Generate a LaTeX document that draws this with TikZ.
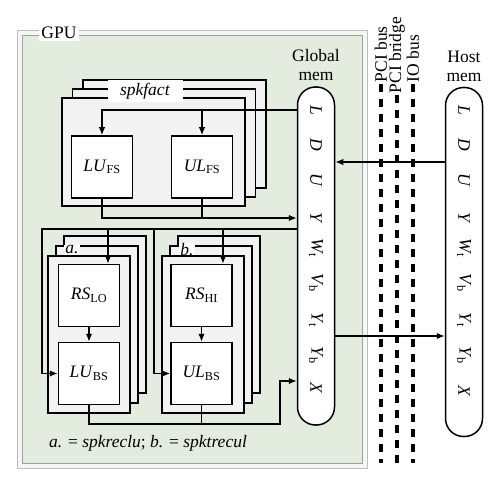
\documentclass[tikz,border=0pt]{standalone}
\usepackage{fontspec}
\setmainfont{Liberation Serif}
\usepackage{tikz}
\usetikzlibrary{positioning}
\usetikzlibrary{shapes,arrows.meta,positioning,fit}
\definecolor{gpugreen}{RGB}{227,236,223}
\definecolor{framegray}{RGB}{160,160,160}
\definecolor{stackgray}{RGB}{242,242,242}
\tikzstyle{block} = [rectangle, draw, fill=white, minimum width=61pt, minimum height=62pt, inner sep=0pt]
\tikzstyle{stack} = [rectangle, draw, fill=stackgray, inner sep=0pt]
\tikzstyle{mem} = [rectangle, draw, fill=white, rounded corners=18pt, minimum width=37pt]
\tikzstyle{var} = [rotate=-90, inner sep=0pt]
\tikzstyle{tag} = [fill=white, inner sep=1pt]
\tikzstyle{bus} = [draw, line width=3.2pt, dash pattern=on 8pt off 7pt]
\tikzstyle{line} = [draw, -{Latex[length=8pt,width=6.5pt]}]

\begin{document}
\begin{tikzpicture}[x=1pt, y=-1pt, line width=1.5pt, font=\fontsize{17.5}{19}\selectfont]
\useasboundingbox (0,0) rectangle (500,486);
    % nodes
\node (gpuout) [rectangle, draw=framegray!70, fill=gpugreen!40, line width=1pt, minimum width=350pt, minimum height=437pt] at (192,249.5) {};
\node (gpu) [rectangle, draw=framegray, fill=gpugreen, line width=1pt, minimum width=340pt, minimum height=427pt] at (192,249.5) {};
\node (gpulbl) [tag, inner sep=2pt] at (59,33) {GPU};

\node (gmem) [mem, minimum height=338pt] at (316,256) {};
\node (hmem) [mem, minimum height=349pt] at (464,262) {};
\node (glbl) [align=center, above=1pt of gmem] {Global\\mem};
\node (hlbl) [align=center, above=1pt of hmem] {Host\\mem};

\node (gl1) [var] at (316,110) {\textit{L}};
\node (gl2) [var] at (316,145) {\textit{D}};
\node (gl3) [var] at (316,180) {\textit{U}};
\node (gl4) [var] at (316,218) {\textit{Y}};
\node (gl5) [var] at (316,248) {\textit{W}\textsubscript{t}};
\node (gl6) [var] at (316,283) {\textit{V}\textsubscript{b}};
\node (gl7) [var] at (316,320) {\textit{Y}\textsubscript{t}};
\node (gl8) [var] at (316,355) {\textit{Y}\textsubscript{b}};
\node (gl9) [var] at (316,388) {\textit{X}};
\node (hl1) [var] at (464,110) {\textit{L}};
\node (hl2) [var] at (464,145) {\textit{D}};
\node (hl3) [var] at (464,180) {\textit{U}};
\node (hl4) [var] at (464,218) {\textit{Y}};
\node (hl5) [var] at (464,248) {\textit{W}\textsubscript{t}};
\node (hl6) [var] at (464,283) {\textit{V}\textsubscript{b}};
\node (hl7) [var] at (464,320) {\textit{Y}\textsubscript{t}};
\node (hl8) [var] at (464,355) {\textit{Y}\textsubscript{b}};
\node (hl9) [var] at (464,391) {\textit{X}};

\node (fact3) [stack, minimum width=183pt, minimum height=108pt] at (174.5,134) {};
\node (fact2) [stack, minimum width=183pt, minimum height=108pt] at (164,143) {};
\node (fact1) [stack, minimum width=183pt, minimum height=108pt] at (153.5,152) {};
\node (factlbl) [tag, minimum width=75pt, minimum height=22pt] at (145,91) {\textit{spkfact}};
\node (lufs) [block] at (102,167) {\textit{LU}\textsubscript{FS}};
\node (ulfs) [block] at (202,167) {\textit{UL}\textsubscript{FS}};

\node (a3) [stack, minimum width=82pt, minimum height=157pt] at (105,314.5) {};
\node (a2) [stack, minimum width=82pt, minimum height=157pt] at (97,324.5) {};
\node (alb) [tag] at (72,250) {\textit{a.}};
\node (a1) [stack, minimum width=82pt, minimum height=157pt] at (89,334.5) {};
\node (b3) [stack, minimum width=82pt, minimum height=157pt] at (219,314.5) {};
\node (b2) [stack, minimum width=82pt, minimum height=157pt] at (211,324.5) {};
\node (blb) [tag] at (187,250) {\textit{b.}};
\node (b1) [stack, minimum width=82pt, minimum height=157pt] at (203,334.5) {};
\node (rslo) [block] at (89,295.5) {\textit{RS}\textsubscript{LO}};
\node (lubs) [block] at (89,373.5) {\textit{LU}\textsubscript{BS}};
\node (rshi) [block] at (201.5,295.5) {\textit{RS}\textsubscript{HI}};
\node (ulbs) [block] at (201.5,373.5) {\textit{UL}\textsubscript{BS}};
\node (capt) at (148,443) {\textit{a.} = \textit{spkreclu}; \textit{b.} = \textit{spktrecul}};

\node (pcibus) [rotate=90, anchor=west, inner sep=1pt] at (381,84) {PCI bus};
\node (pcibr) [rotate=90, anchor=west, inner sep=1pt] at (397,95) {PCI bridge};
\node (iobus) [rotate=90, anchor=west, inner sep=1pt] at (413,84) {IO bus};

\coordinate (c1) at (0,162);
\coordinate (c2) at (42,229);
\coordinate (c3) at (154,229);
\coordinate (c4) at (108,229);
\coordinate (c5) at (223,229);
\coordinate (c6) at (280,424);
\coordinate (c7) at (0,381);
\coordinate (c8) at (0,336);

%edges
\draw [line] (gmem.west |- gl1) -| (lufs.north);
\draw [line] (ulfs.north |- gl1) -- (ulfs.north);
\draw [line] (lufs.south) |- (gmem.west |- gl4);
\draw (ulfs.south) -- (ulfs.south |- gl4);
\draw [line] (gmem.west |- c2) -- (c2) |- (lubs.west);
\draw [line] (c3) |- (ulbs.west);
\draw [line] (c4) -- (c4 |- rslo.north);
\draw [line] (c5) -- (c5 |- rshi.north);
\draw [line] (rslo) -- (lubs);
\draw [line] (rshi) -- (ulbs);
\draw [line] (lubs.south) |- (c6) |- (gmem.west |- c7);
\draw (ulbs.south) -- (ulbs.south |- c6);
\draw [line] (hmem.west |- c1) -- (gmem.east |- c1);
\draw [line] (gmem.east |- c8) -- (hmem.west |- c8);

\draw [bus] (pcibus.west) -- ++(0,379);
\draw [bus] (pcibr.west) -- ++(0,368);
\draw [bus] (iobus.west) -- ++(0,379);

\end{tikzpicture}
\end{document}
